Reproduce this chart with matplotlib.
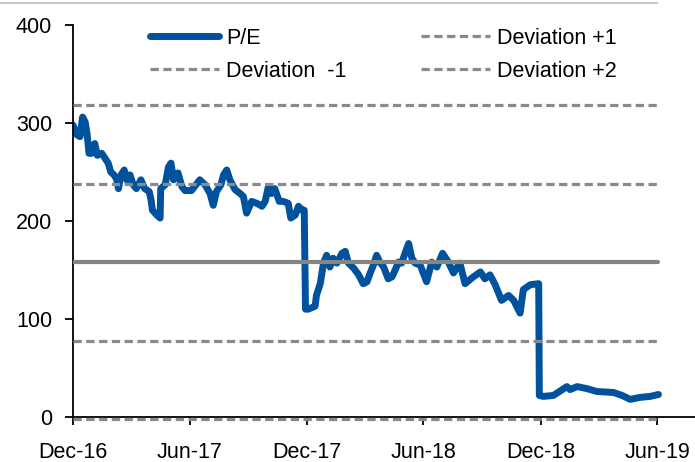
import numpy as np
import pandas as pd
import matplotlib
matplotlib.use("Agg")
import matplotlib.pyplot as plt
from matplotlib.lines import Line2D

plt.rcParams['font.family'] = ['Liberation Sans', 'DejaVu Sans']
FS = 15.5

# =============================
# Data
# =============================
START = pd.Timestamp("2016-12-01")

# days after START, P/E value
pe_days = [0, 6, 11, 15, 19, 22, 25, 29, 34, 38, 45, 50, 55, 59, 64, 68, 71, 75,
           80, 84, 89, 94, 99, 106, 112, 119, 122, 124, 131, 136, 137, 144, 149,
           153, 157, 164, 170, 175, 185, 198, 206, 214, 219, 224, 231, 235, 240,
           245, 253, 261, 266, 271, 279, 287, 295, 300, 305, 310, 315, 322, 328,
           336, 340, 347, 352, 358, 361, 363, 367, 378, 380, 386, 391, 396, 401,
           406, 412, 420, 425, 430, 438, 446, 453, 459, 464, 469, 474, 479, 485,
           492, 498, 503, 508, 513, 520, 524, 529, 534, 542, 549, 552, 560, 568,
           577, 586, 594, 604, 612, 625, 636, 643, 651, 659, 669, 680, 688, 698,
           703, 714, 727, 728, 734, 750, 771, 776, 787, 802, 818, 844, 857, 870,
           885, 901, 914]
pe_values = [298, 288, 286, 306, 301, 289, 269, 269, 279, 267, 269, 264, 259, 250,
             247, 243, 233, 247, 252, 242, 247, 237, 233, 242, 233, 230, 221, 211,
             206, 203, 233, 237, 255, 259, 242, 249, 235, 231, 231, 242, 237, 228,
             216, 230, 237, 247, 252, 242, 232, 228, 225, 208, 220, 218, 215, 220,
             235, 228, 233, 220, 220, 218, 203, 206, 215, 211, 211, 110, 110, 113,
             124, 136, 157, 165, 153, 162, 157, 167, 169, 157, 152, 145, 136, 138,
             147, 155, 165, 158, 153, 141, 143, 150, 158, 157, 170, 177, 162, 157,
             155, 143, 138, 158, 153, 167, 158, 147, 157, 136, 143, 148, 141, 145,
             135, 119, 124, 119, 106, 130, 135, 136, 22, 21, 22, 31, 28, 31, 29, 26,
             25, 22, 18, 20, 21, 23]

MEAN = 158
DEV_P1 = 238
DEV_P2 = 318
DEV_M1 = 78
DEV_M2 = -2

tick_labels = ["Dec-16", "Jun-17", "Dec-17", "Jun-18", "Dec-18", "Jun-19"]
tick_dates = pd.to_datetime(["2016-12-01", "2017-06-01", "2017-12-01",
                             "2018-06-01", "2018-12-01", "2019-06-01"])

dates = START + pd.to_timedelta(pe_days, unit="D")

# =============================
# Plot
# =============================
BLUE = "#00529c"
GREY = "#8a8a8a"

fig = plt.figure(figsize=(6.95, 4.62), dpi=100)
ax = fig.add_axes([0.105, 0.0974, 0.895, 0.8486])

ax.plot(dates, pe_values, color=BLUE, lw=5, solid_joinstyle="round",
        solid_capstyle="round", zorder=2, label="P/E")

x0, x1 = dates[0], dates[-1]
dash = (0, (2.6, 1.4))
ax.plot([x0, x1], [MEAN, MEAN], color="#858585", lw=3, zorder=3,
        solid_capstyle="round")
ax.plot([x0, x1], [DEV_P1, DEV_P1], color=GREY, lw=2.3, ls=dash, zorder=3)
ax.plot([x0, x1], [DEV_P2, DEV_P2], color=GREY, lw=2.3, ls=dash, zorder=3)
ax.plot([x0, x1], [DEV_M1, DEV_M1], color=GREY, lw=2.3, ls=dash, zorder=3)
ax.plot([x0, x1], [DEV_M2, DEV_M2], color=GREY, lw=2.3, ls=dash, zorder=3,
        clip_on=False)

ax.set_ylim(0, 400)
ax.set_yticks([0, 100, 200, 300, 400])
ax.set_xlim(START, START + pd.Timedelta(days=971))
ax.set_xticks(tick_dates)
ax.set_xticklabels(tick_labels)

for s in ["top", "right"]:
    ax.spines[s].set_visible(False)
for s in ["left", "bottom"]:
    ax.spines[s].set_linewidth(1.3)
    ax.spines[s].set_color("black")
ax.tick_params(axis="both", labelsize=FS, length=6, width=1.3, direction="out")
ax.tick_params(axis="y", pad=9)
ax.tick_params(axis="x", pad=12)

# Legend (ordered column-wise)
handles = [
    Line2D([], [], color=BLUE, lw=5, solid_capstyle="round"),
    Line2D([], [], color=GREY, lw=2.3, ls=dash),
    Line2D([], [], color=GREY, lw=2.3, ls=dash),
    Line2D([], [], color=GREY, lw=2.3, ls=dash),
]
labels = ["P/E", "Deviation  -1", "Deviation +1", "Deviation +2"]
fig.legend(handles, labels, ncol=2, loc="upper left",
           bbox_to_anchor=(150 / 695, 1 - 28 / 462), frameon=False,
           fontsize=FS, handlelength=3.2, handletextpad=0.35,
           columnspacing=3.45, labelspacing=0.55, borderpad=0,
           borderaxespad=0)

# thin border line at the top
fig.add_artist(Line2D([0, 657 / 695], [1 - 3 / 462, 1 - 3 / 462],
                      color="#c8c8c8", lw=1.5, transform=fig.transFigure))

fig.savefig("out.png", dpi=100)
